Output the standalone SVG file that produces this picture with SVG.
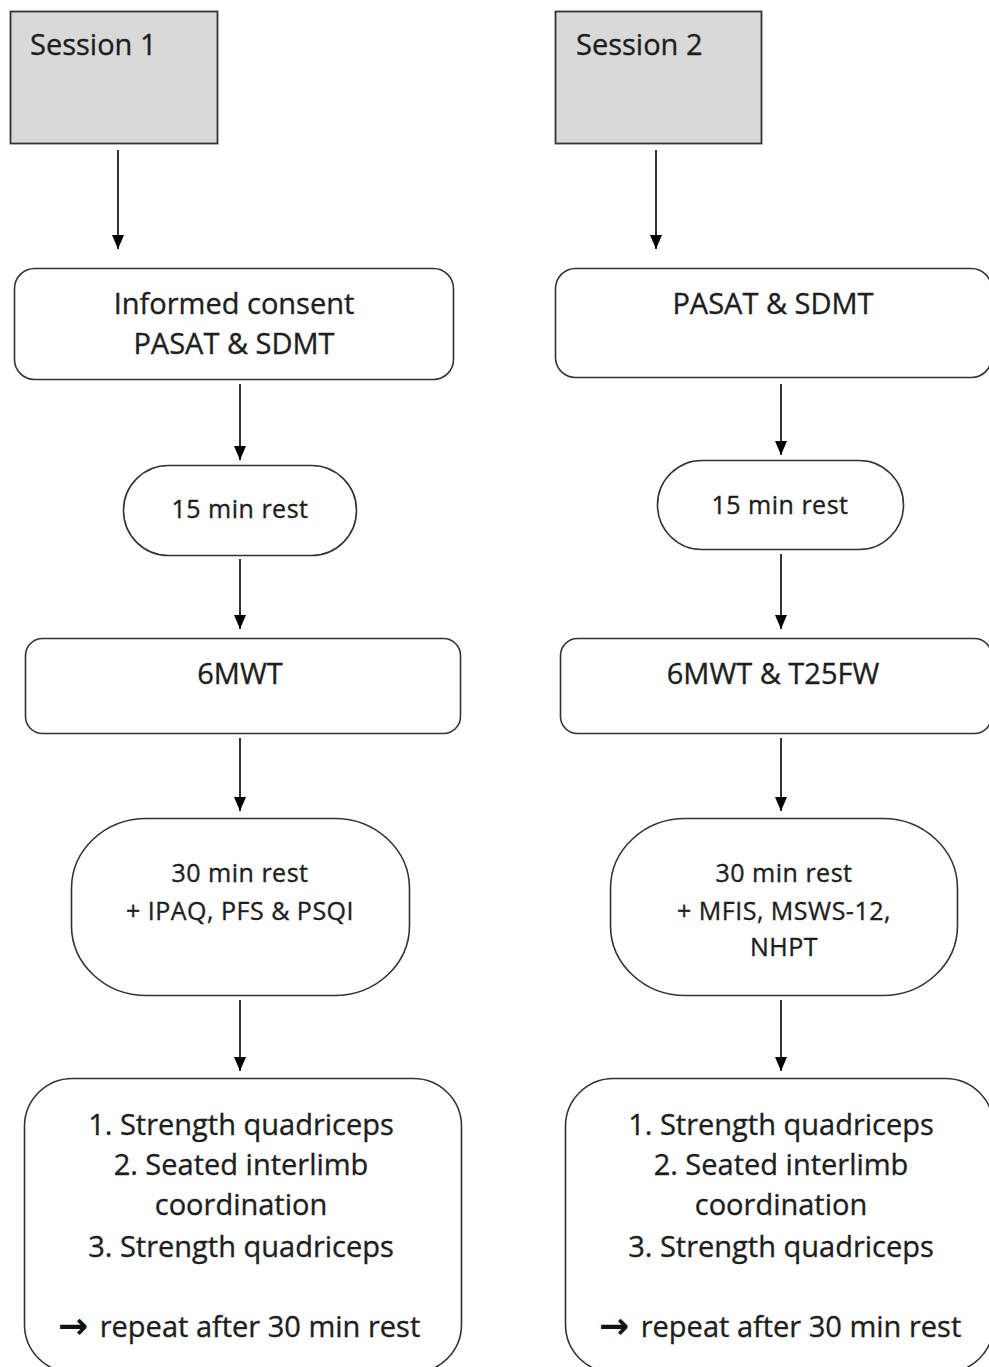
<svg xmlns="http://www.w3.org/2000/svg" width="989" height="1367" viewBox="0 0 989 1367">
<defs>
<marker id="ah" viewBox="0 0 14 12" refX="14" refY="6" markerWidth="14" markerHeight="12" markerUnits="userSpaceOnUse" orient="auto">
<path d="M0,0 L14,6 L0,12 Z" fill="#000"/>
</marker>
<style>
.box{fill:#fff;stroke:#333;stroke-width:1.6}
.sess{fill:#d9d9d9;stroke:#333;stroke-width:1.8}
.t{font-family:"Open Sans",Lato,sans-serif;fill:#1e1e1e;stroke:#1e1e1e;stroke-width:0.35;text-anchor:middle}
.big{font-size:29px}
.sm{font-size:25px;letter-spacing:0.5px}
.arr{font-family:"DejaVu Sans",sans-serif;font-weight:bold;font-size:36px;fill:#111;text-anchor:start}
.edge{stroke:#000;stroke-width:1.6;fill:none;marker-end:url(#ah)}
</style>
</defs>
<rect width="989" height="1367" fill="#fff"/>
<g id="session1">
<rect class="sess" x="10.5" y="11.5" width="207" height="132"/>
<text class="t big" x="30" y="55" style="text-anchor:start">Session 1</text>
</g>
<g id="session2">
<rect class="sess" x="555.5" y="11.5" width="206" height="132"/>
<text class="t big" x="576" y="55" style="text-anchor:start">Session 2</text>
</g>
<g id="consent1">
<rect class="box" x="14.5" y="268.5" width="439" height="111" rx="20"/>
<text class="t big" x="234" y="314">Informed consent</text>
<text class="t big" x="234" y="354">PASAT &amp; SDMT</text>
</g>
<g id="pasat2">
<rect class="box" x="555.5" y="268.5" width="436" height="109" rx="20"/>
<text class="t big" x="773" y="314">PASAT &amp; SDMT</text>
</g>
<g id="rest15a">
<rect class="box" x="123.5" y="465.5" width="233" height="90" rx="45"/>
<text class="t sm" x="240" y="518">15 min rest</text>
</g>
<g id="rest15b">
<rect class="box" x="657.5" y="460.5" width="246" height="89" rx="44.5"/>
<text class="t sm" x="780" y="514">15 min rest</text>
</g>
<g id="mwt1">
<rect class="box" x="25.5" y="638.5" width="435" height="95" rx="17"/>
<text class="t big" x="240" y="684">6MWT</text>
</g>
<g id="mwt2">
<rect class="box" x="560.5" y="638.5" width="431" height="95" rx="17"/>
<text class="t big" x="773" y="684">6MWT &amp; T25FW</text>
</g>
<g id="rest30a">
<rect class="box" x="71.5" y="818.5" width="338" height="177" rx="75" ry="70"/>
<text class="t sm" x="240" y="882">30 min rest</text>
<text class="t sm" x="240" y="920">+ IPAQ, PFS &amp; PSQI</text>
</g>
<g id="rest30b">
<rect class="box" x="610.5" y="818.5" width="347" height="177" rx="75" ry="70"/>
<text class="t sm" x="784" y="882">30 min rest</text>
<text class="t sm" x="784" y="920">+ MFIS, MSWS-12,</text>
<text class="t sm" x="784" y="956">NHPT</text>
</g>
<g id="strength1">
<rect class="box" x="24.5" y="1078.5" width="437" height="294" rx="48"/>
<text class="t big" x="241" y="1135">1. Strength quadriceps</text>
<text class="t big" x="241" y="1175">2. Seated interlimb</text>
<text class="t big" x="241" y="1215">coordination</text>
<text class="t big" x="241" y="1257">3. Strength quadriceps</text>
<text class="arr" x="58" y="1338">→</text>
<text class="t big" x="260" y="1337">repeat after 30 min rest</text>
</g>
<g id="strength2">
<rect class="box" x="565.5" y="1078.5" width="428" height="294" rx="48"/>
<text class="t big" x="781" y="1135">1. Strength quadriceps</text>
<text class="t big" x="781" y="1175">2. Seated interlimb</text>
<text class="t big" x="781" y="1215">coordination</text>
<text class="t big" x="781" y="1257">3. Strength quadriceps</text>
<text class="arr" x="599" y="1338">→</text>
<text class="t big" x="801" y="1337">repeat after 30 min rest</text>
</g>
<g id="connectors">
<line class="edge" x1="118" y1="150" x2="118" y2="249"/>
<line class="edge" x1="656" y1="150" x2="656" y2="249"/>
<line class="edge" x1="240" y1="384" x2="240" y2="460"/>
<line class="edge" x1="781" y1="384" x2="781" y2="455"/>
<line class="edge" x1="240" y1="559" x2="240" y2="629"/>
<line class="edge" x1="781" y1="554" x2="781" y2="629"/>
<line class="edge" x1="240" y1="738" x2="240" y2="811"/>
<line class="edge" x1="781" y1="738" x2="781" y2="811"/>
<line class="edge" x1="240" y1="1000" x2="240" y2="1071"/>
<line class="edge" x1="781" y1="1000" x2="781" y2="1071"/>
</g>
</svg>
